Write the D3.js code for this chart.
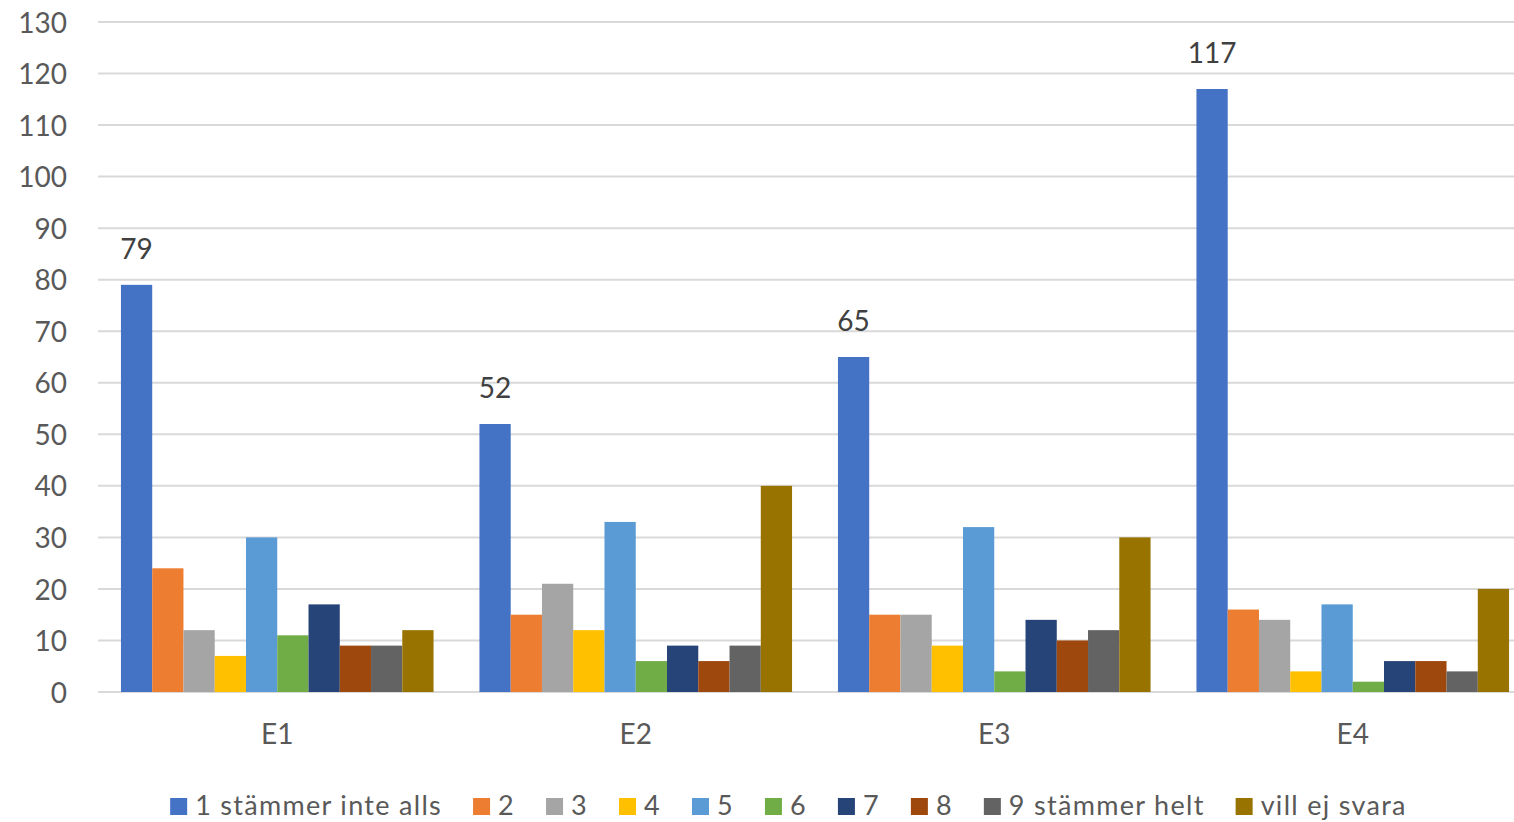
<!DOCTYPE html>
<html><head><meta charset="utf-8">
<script src="https://cdn.jsdelivr.net/npm/d3@7"></script>
<style>
html,body{margin:0;padding:0;background:#fff;}
svg{display:block;}
text{font-family:Lato,"Open Sans",sans-serif;}
</style></head>
<body>
<svg id="chart" width="1514" height="822"></svg>
<script>
const categories = ["E1","E2","E3","E4"];
const seriesNames = ["1 stämmer inte alls","2","3","4","5","6","7","8","9 stämmer helt","vill ej svara"];
const s1 = [79, 52, 65, 117];
const s2 = [24, 15, 15, 16];
const s3 = [12, 21, 15, 14];
const s4 = [7, 12, 9, 4];
const s5 = [30, 33, 32, 17];
const s6 = [11, 6, 4, 2];
const s7 = [17, 9, 14, 6];
const s8 = [9, 6, 10, 6];
const s9 = [9, 9, 12, 4];
const s10 = [12, 40, 30, 20];
const seriesValues = [s1,s2,s3,s4,s5,s6,s7,s8,s9,s10];
const colors = ["#4472C4","#ED7D31","#A5A5A5","#FFC000","#5B9BD5","#70AD47","#264478","#9E480E","#636363","#997300"];
const yTicks = [0,10,20,30,40,50,60,70,80,90,100,110,120,130];
const labeledSeries = [0];

const svg = d3.select("#chart");
const y = d3.scaleLinear().domain([0,130]).range([692,22]);
const x0 = d3.scaleBand().domain(categories).range([98,1532]).padding(0);
const bw = x0.bandwidth();
const groupW = 312.6;
const x1 = d3.scaleBand().domain(d3.range(seriesNames.length)).range([(bw-groupW)/2,(bw+groupW)/2]).padding(0);

// gridlines
svg.append("g").selectAll("line").data(yTicks).join("line")
  .attr("x1",98).attr("x2",1514)
  .attr("y1",d=>y(d)).attr("y2",d=>y(d))
  .attr("stroke","#d9d9d9").attr("stroke-width",2);

// y axis labels
const yAxis = d3.axisLeft(y).tickValues(yTicks).tickSize(0).tickPadding(0);
const ya = svg.append("g").attr("transform","translate(67,0)").call(yAxis);
ya.select(".domain").remove();
ya.selectAll("text").attr("font-family","Lato").attr("font-size",28).attr("fill","#595959").attr("dy","0.36em");

// bars
const groups = svg.append("g").selectAll("g").data(categories).join("g")
  .attr("transform",d=>`translate(${x0(d)},0)`);
groups.selectAll("rect").data((c,ci)=>seriesValues.map((vals,si)=>({si,v:vals[ci]}))).join("rect")
  .attr("x",d=>x1(d.si)).attr("width",x1.bandwidth())
  .attr("y",d=>y(d.v)).attr("height",d=>y(0)-y(d.v))
  .attr("fill",d=>colors[d.si]);

// data labels
groups.selectAll("text.dl").data((c,ci)=>labeledSeries.map(si=>({si,v:seriesValues[si][ci]}))).join("text")
  .attr("class","dl")
  .attr("x",d=>x1(d.si)+x1.bandwidth()/2).attr("y",d=>y(d.v)-26)
  .attr("text-anchor","middle").attr("font-size",28).attr("fill","#404040")
  .text(d=>d.v);

// x axis labels
const xAxis = d3.axisBottom(x0).tickSize(0).tickPadding(0);
const xa = svg.append("g").attr("transform","translate(0,744)").call(xAxis);
xa.select(".domain").remove();
xa.selectAll("text").attr("font-family","Lato").attr("font-size",28).attr("fill","#595959").attr("dy",0);

// legend
const leg = svg.append("g");
const items = leg.selectAll("g").data(seriesNames).join("g");
items.append("rect").attr("width",17).attr("height",17).attr("y",798).attr("fill",(d,i)=>colors[i]);
items.append("text").attr("x",25).attr("y",815).attr("font-size",27).attr("letter-spacing","1.3px").attr("fill","#595959").text(d=>d);
let xpos = 0;
items.each(function(){
  const w = d3.select(this).select("text").node().getComputedTextLength();
  d3.select(this).attr("data-x",xpos);
  xpos += 25 + w + 31;
});
const total = xpos - 31;
const start = 788.5 - total/2;
items.attr("transform",function(){return `translate(${start + (+this.getAttribute("data-x"))},0)`;});
</script>
</body></html>
